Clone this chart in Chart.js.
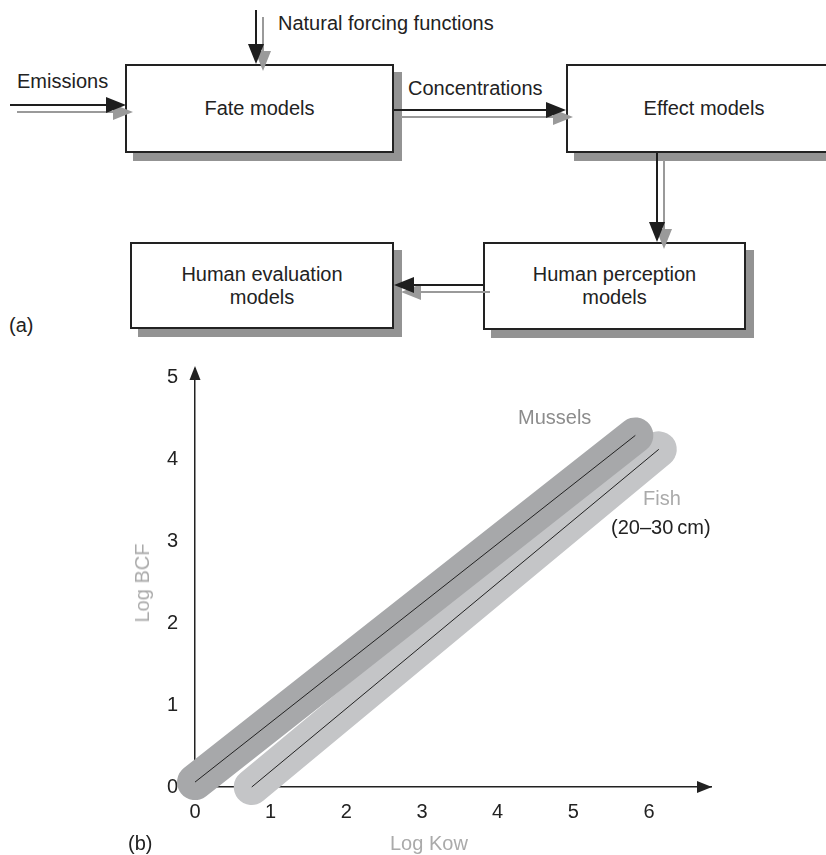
<!DOCTYPE html>
<html>
<head>
<meta charset="utf-8">
<script src="https://cdn.jsdelivr.net/npm/chart.js@4.4.1/dist/chart.umd.min.js"></script>
<style>
body{margin:0;width:826px;height:855px;overflow:hidden;background:#fff;position:relative;font-family:"Liberation Sans",Arial,sans-serif;color:#222;}
.box{position:absolute;box-sizing:border-box;border:2px solid #222;background:#fff;box-shadow:8px 8px 0 #939393;display:flex;align-items:center;justify-content:center;text-align:center;font-size:20px;line-height:23px;}
.lbl{position:absolute;font-size:20px;line-height:24px;white-space:nowrap;}
#wrap{position:absolute;left:0;top:340px;width:826px;height:515px;}
#arrows{position:absolute;left:0;top:0;}
</style>
</head>
<body>

<!-- (a) diagramme -->
<div class="box" style="left:125px;top:64px;width:269px;height:89px;">Fate models</div>
<div class="box" style="left:566px;top:64px;width:276px;height:89px;">Effect models</div>
<div class="box" style="left:483px;top:242px;width:263px;height:88px;">Human perception<br>models</div>
<div class="box" style="left:130px;top:242px;width:264px;height:87px;">Human evaluation<br>models</div>
<svg id="arrows" width="826" height="340"></svg>

<div class="lbl" style="left:17px;top:69px;">Emissions</div>
<div class="lbl" style="left:278px;top:11px;">Natural forcing functions</div>
<div class="lbl" style="left:408px;top:76px;">Concentrations</div>
<div class="lbl" style="left:9px;top:313px;">(a)</div>

<!-- (b) graphique -->
<div id="wrap"><canvas id="bcfChart" width="826" height="515"></canvas></div>
<div class="lbl" style="left:128px;top:831px;">(b)</div>
<div class="lbl" style="left:390px;top:831px;color:#aaa;">Log Kow</div>
<div class="lbl" style="left:142px;top:583px;color:#aaa;transform:translate(-50%,-50%) rotate(-90deg);">Log BCF</div>
<div class="lbl" style="left:518px;top:405px;color:#8c8c8c;">Mussels</div>
<div class="lbl" style="left:643px;top:486px;color:#aaa;">Fish</div>
<div class="lbl" style="left:611px;top:515px;">(20–30&#8201;cm)</div>

<script>
// valeurs
const xTicks = [0, 1, 2, 3, 4, 5, 6];
const yTicks = [0, 1, 2, 3, 4, 5];
const musselsX = [0, 5.82];
const musselsY = [0.06, 4.29];
const fishX = [0.75, 6.13];
const fishY = [0, 4.12];

// flèches du schéma (a) : départ -> pointe
const fleches = [
    [10, 105, 126, 105],
    [256, 10, 256, 64],
    [394, 110, 566, 110],
    [657, 153, 657, 242],
    [483, 285, 394, 285]
];

function dessinerFleche(x1, y1, x2, y2, couleur){
    const L = 20, W = 8;
    const len = Math.hypot(x2 - x1, y2 - y1);
    const ux = (x2 - x1) / len, uy = (y2 - y1) / len;
    const bx = x2 - ux * L, by = y2 - uy * L;
    const px = -uy * W, py = ux * W;
    return '<line x1="' + x1 + '" y1="' + y1 + '" x2="' + bx + '" y2="' + by + '" stroke="' + couleur + '" stroke-width="2"/>' +
        '<polygon points="' + x2 + ',' + y2 + ' ' + (bx + px) + ',' + (by + py) + ' ' + (bx - px) + ',' + (by - py) + '" fill="' + couleur + '"/>';
}

let svg = '';
fleches.forEach(f => { svg += dessinerFleche(f[0] + 7, f[1] + 7, f[2] + 7, f[3] + 7, '#9a9a9a'); });
fleches.forEach(f => { svg += dessinerFleche(f[0], f[1], f[2], f[3], '#1e1e1e'); });
document.getElementById('arrows').innerHTML = svg;

function pts(xs, ys){
    return xs.map((x, i) => ({ x: x, y: ys[i] }));
}

// pointes de flèche des axes
const flechesAxes = {
    id: 'flechesAxes',
    afterDraw(chart){
        const { ctx, chartArea: a } = chart;
        ctx.save();
        ctx.fillStyle = '#222';
        ctx.beginPath();
        ctx.moveTo(a.left, a.top - 3);
        ctx.lineTo(a.left - 5.5, a.top + 11);
        ctx.lineTo(a.left + 5.5, a.top + 11);
        ctx.closePath();
        ctx.fill();
        ctx.beginPath();
        ctx.moveTo(a.right + 1, a.bottom);
        ctx.lineTo(a.right - 14, a.bottom - 6);
        ctx.lineTo(a.right - 14, a.bottom + 6);
        ctx.closePath();
        ctx.fill();
        ctx.restore();
    }
};

const police = { family: '"Liberation Sans", Arial, sans-serif', size: 20 };

new Chart(document.getElementById('bcfChart'), {
    type: 'line',
    data: {
        datasets: [
            { data: pts(musselsX, musselsY), borderColor: '#222', borderWidth: 1, pointRadius: 0, clip: false, order: 0 },
            { data: pts(fishX, fishY), borderColor: '#222', borderWidth: 1, pointRadius: 0, clip: false, order: 1 },
            { data: pts(musselsX, musselsY), borderColor: '#a7a8aa', borderWidth: 36, borderCapStyle: 'round', pointRadius: 0, clip: false, order: 2 },
            { data: pts(fishX, fishY), borderColor: '#c4c5c7', borderWidth: 36, borderCapStyle: 'round', pointRadius: 0, clip: false, order: 3 }
        ]
    },
    options: {
        responsive: false,
        animation: false,
        devicePixelRatio: 1,
        layout: { padding: { top: 16.6, right: 115, left: 0, bottom: 0 } },
        plugins: { legend: { display: false }, tooltip: { enabled: false } },
        scales: {
            x: {
                type: 'linear', min: 0, max: 6.82,
                afterBuildTicks: s => { s.ticks = xTicks.map(v => ({ value: v })); },
                afterFit: s => { s.height = 68; },
                grid: { display: false, drawTicks: false },
                border: { display: true, color: '#222', width: 1.5 },
                ticks: { color: '#222', font: police, padding: 13, maxRotation: 0, autoSkip: false }
            },
            y: {
                type: 'linear', min: 0, max: 5.1,
                afterBuildTicks: s => { s.ticks = yTicks.map(v => ({ value: v })); },
                afterFit: s => { s.width = 195; },
                grid: { display: false, drawTicks: false },
                border: { display: true, color: '#222', width: 1.5 },
                ticks: { color: '#222', font: police, padding: 17, autoSkip: false }
            }
        }
    },
    plugins: [flechesAxes]
});
</script>
</body>
</html>
